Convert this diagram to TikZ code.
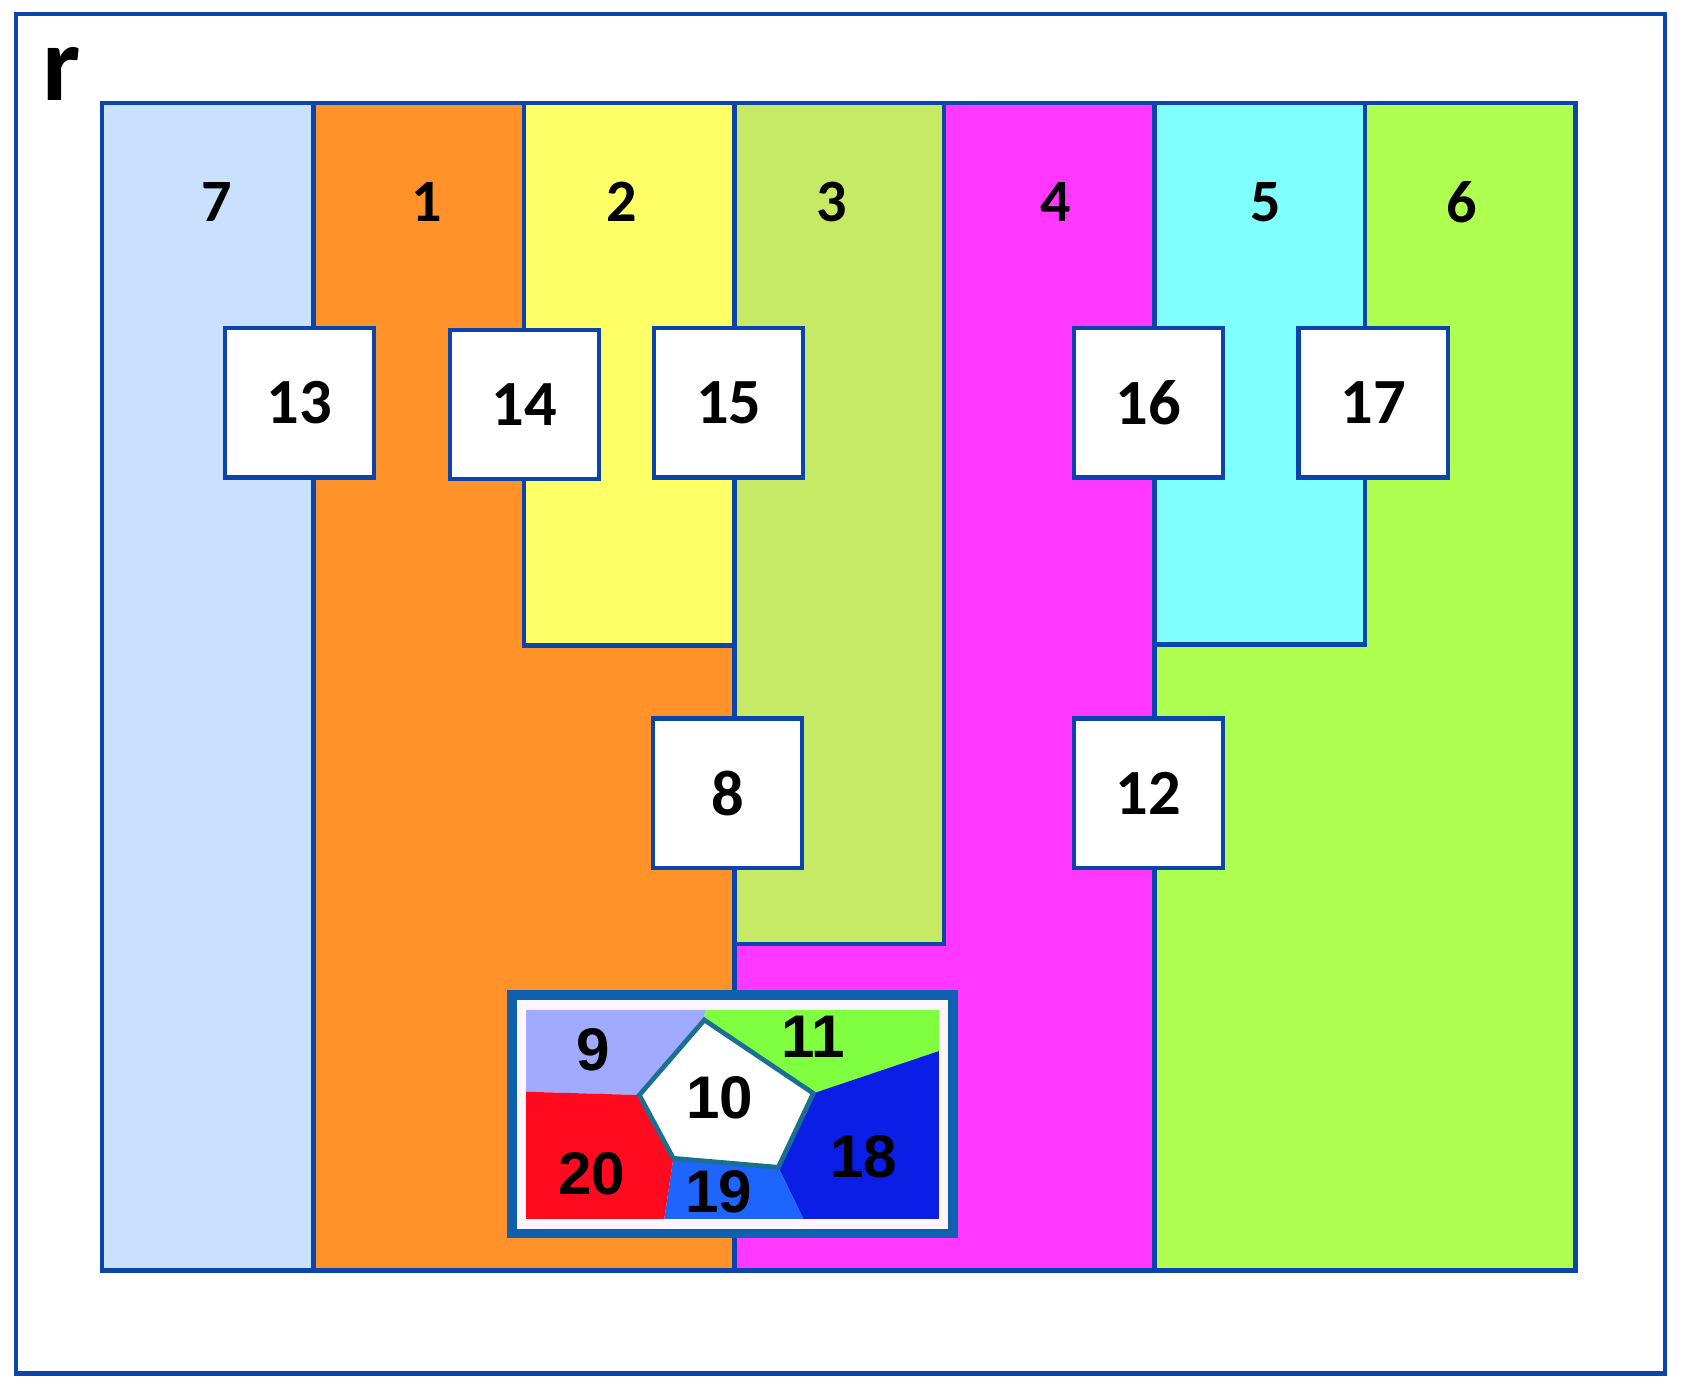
\documentclass[tikz,border=0pt]{standalone}
\usepackage{fontspec}
\setmainfont{Carlito}
\newfontfamily\arialb{Liberation Sans}
\begin{document}
\begin{tikzpicture}[x=0.5pt,y=-0.5pt]
\definecolor{edge}{HTML}{0B44AA}
\definecolor{cseven}{HTML}{C9E1FC}
\definecolor{cone}{HTML}{FF9329}
\definecolor{ctwo}{HTML}{FFFF66}
\definecolor{cthree}{HTML}{C6EA66}
\definecolor{cfour}{HTML}{FF37FF}
\definecolor{cfive}{HTML}{80FFFF}
\definecolor{csix}{HTML}{AEFF50}
\definecolor{cnine}{HTML}{A0AAFF}
\definecolor{celeven}{HTML}{80FF40}
\definecolor{ceighteen}{HTML}{0A1EE6}
\definecolor{cnineteen}{HTML}{1E64FF}
\definecolor{ctwenty}{HTML}{FF0A1E}
\definecolor{insetedge}{HTML}{1060B0}
\definecolor{insetbg}{HTML}{FFF5FF}
\definecolor{pentedge}{HTML}{1A7090}
\tikzset{
  wall/.style={draw=edge, line width=2pt},
  boxn/.style={draw=edge, line width=2pt, fill=white, minimum size=69.5pt, inner sep=0pt,
    font=\fontsize{30}{30}\selectfont\bfseries},
  collabel/.style={font=\fontsize{28}{28}\selectfont\bfseries, inner sep=0pt},
  insetlabel/.style={font=\arialb\fontsize{28}{28}\selectfont\bfseries, inner sep=0pt},
}
\useasboundingbox (0,0) rectangle (1568,1292);
\fill[white] (0,0) rectangle (1568,1292);
% outer frame
\draw[wall] (15,13) rectangle (1550,1279);
\node[font=\fontsize{50}{50}\selectfont\bfseries, inner sep=0pt] (r) at (57,69) {r};
% column fills
\fill[cseven] (95,96) rectangle (292,1183);
\fill[cone] (292,96) -- (488,96) -- (488,601) -- (684,601) -- (684,1183) -- (292,1183) -- cycle;
\fill[ctwo] (488,96) rectangle (684,601);
\fill[cthree] (684,96) rectangle (879,879);
\fill[cfour] (879,96) -- (1075,96) -- (1075,1183) -- (684,1183) -- (684,879) -- (879,879) -- cycle;
\fill[cfive] (1075,96) rectangle (1271,600);
\fill[csix] (1271,96) -- (1467,96) -- (1467,1183) -- (1075,1183) -- (1075,600) -- (1271,600) -- cycle;
% walls
\draw[wall] (95,96) rectangle (1467,1183);
\draw[wall] (292,96) -- (292,1183);
\draw[wall] (488,96) -- (488,601) -- (684,601);
\draw[wall] (684,96) -- (684,1183);
\draw[wall] (879,96) -- (879,879) -- (684,879);
\draw[wall] (1075,96) -- (1075,1183);
\draw[wall] (1271,96) -- (1271,600) -- (1075,600);
% column labels
\node[collabel] (l7) at (202,188) {7};
\node[collabel] (l1) at (397,188) {1};
\node[collabel] (l2) at (579,188) {2};
\node[collabel] (l3) at (774,188) {3};
\node[collabel] (l4) at (983,188) {4};
\node[collabel] (l5) at (1179,188) {5};
\node[collabel] (l6) at (1361,188) {6};
% boxes
\node[boxn] (b13) at (279,375) {13};
\node[boxn] (b14) at (488.5,376.5) {14};
\node[boxn] (b15) at (678.5,375) {15};
\node[boxn] (b16) at (1069.5,375) {16};
\node[boxn] (b17) at (1278.5,375) {17};
\node[boxn] (b8) at (677.5,738.5) {8};
\node[boxn] (b12) at (1069.5,738.5) {12};
% inset
\fill[insetbg] (476.7,926.5) rectangle (887.3,1148.5);
\draw[insetedge, line width=4.6pt] (476.7,926.5) rectangle (887.3,1148.5);
\coordinate (pt) at (655.8,949.7);
\coordinate (pr) at (757.3,1018);
\coordinate (pbr) at (724.7,1086.9);
\coordinate (pbl) at (626.9,1078.5);
\coordinate (pl) at (595.3,1019.6);
\fill[cnine] (489.8,940.4) -- (656.4,940.4) -- (pt) -- (pl) -- (489.8,1016.5) -- cycle;
\fill[celeven] (656.4,940.4) -- (874.3,940.4) -- (874.3,978.6) -- (pr) -- (pt) -- cycle;
\fill[ceighteen] (874.3,978.6) -- (874.3,1135) -- (748,1135) -- (pbr) -- (pr) -- cycle;
\fill[cnineteen] (pbr) -- (748,1135) -- (618.5,1135) -- (pbl) -- cycle;
\fill[ctwenty] (489.8,1016.5) -- (pl) -- (pbl) -- (618.5,1135) -- (489.8,1135) -- cycle;
\filldraw[fill=white, draw=pentedge, line width=2.2pt, line join=miter] (pt) -- (pr) -- (pbr) -- (pbl) -- (pl) -- cycle;
\node[insetlabel] (n9) at (552,977) {9};
\node[insetlabel] (n11) at (757,965) {11};
\node[insetlabel] (n10) at (670,1022) {10};
\node[insetlabel] (n18) at (804,1077) {18};
\node[insetlabel] (n19) at (669,1110) {19};
\node[insetlabel] (n20) at (551,1093) {20};
\end{tikzpicture}
\end{document}
